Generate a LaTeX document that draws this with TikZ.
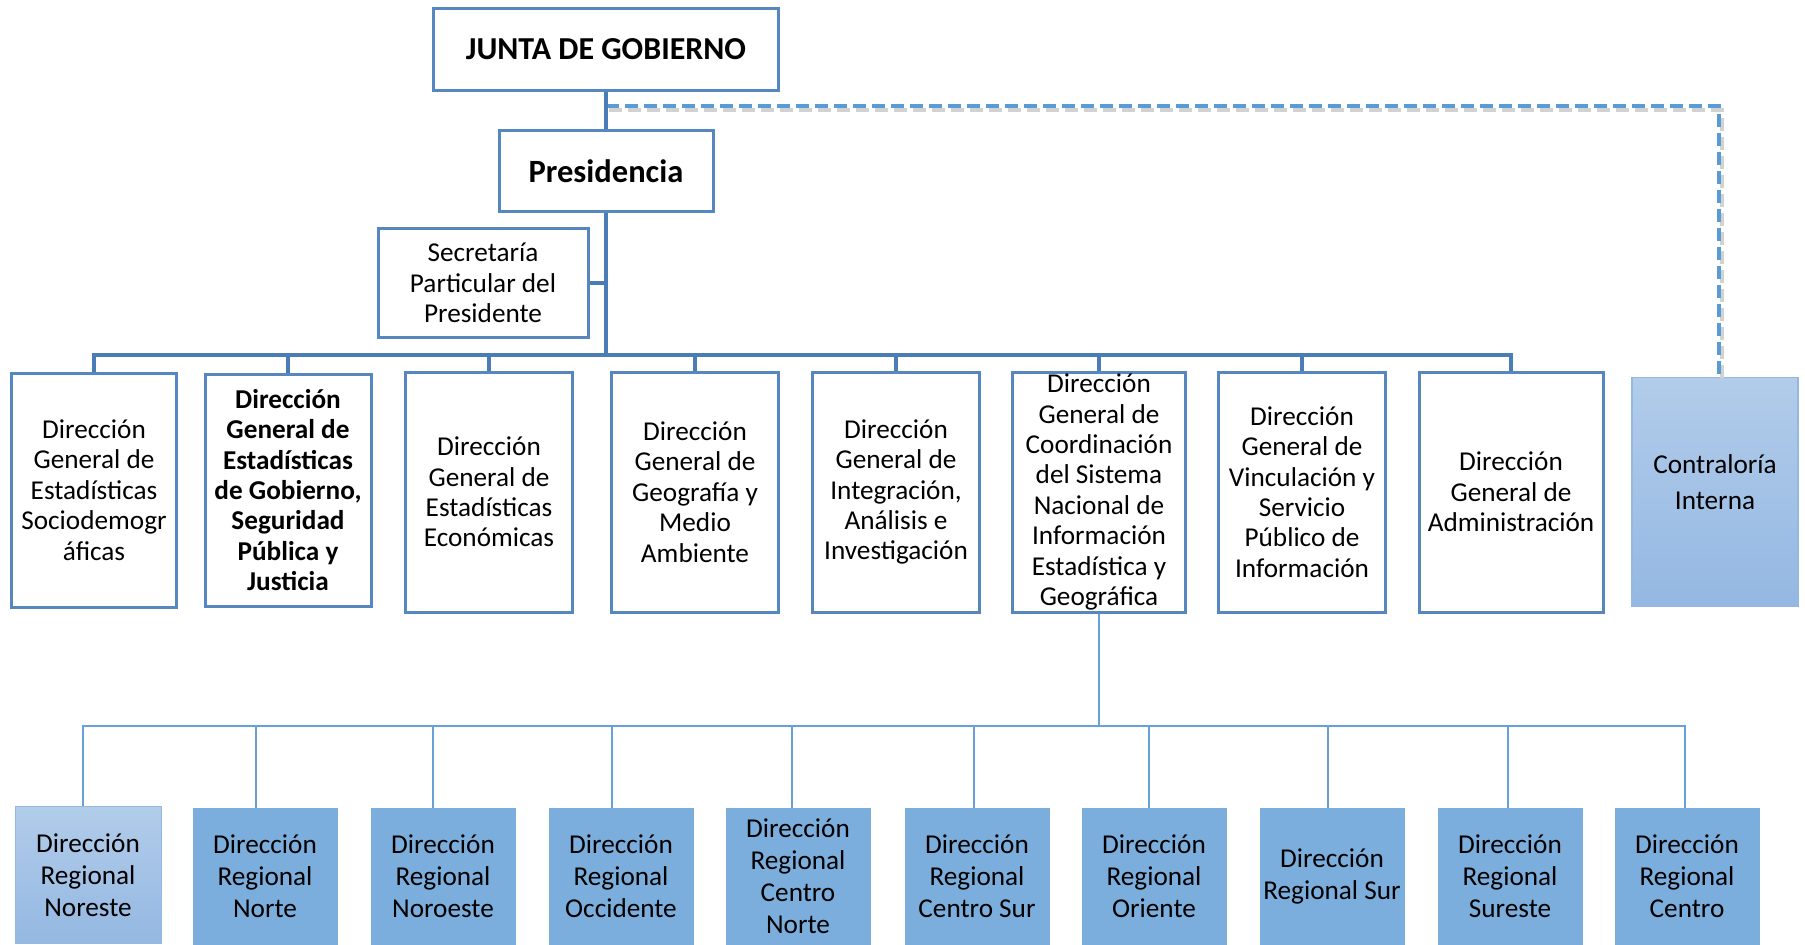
\documentclass[tikz,border=0pt]{standalone}
\usepackage{fontspec}
\setmainfont{Carlito}
\newlength\px
\setlength\px{0.02cm}
\definecolor{boxline}{RGB}{86,135,193}
\definecolor{topline}{RGB}{74,124,182}
\definecolor{lowline}{RGB}{104,160,216}
\definecolor{regfill}{RGB}{123,174,220}
\definecolor{lightA}{RGB}{178,204,234}
\definecolor{lightB}{RGB}{148,184,226}
\definecolor{dashblue}{RGB}{91,155,213}
\tikzset{
	unit/.style={draw=boxline,line width=3\px,fill=white,inner sep=0pt,align=center,font=\fontsize{15.5}{17.3}\selectfont},
	gen/.style={unit,minimum width=167\px,minimum height=240\px},
	reg/.style={draw=regfill,fill=regfill,line width=1\px,inner sep=0pt,align=center,minimum width=144\px,minimum height=136\px,font=\fontsize{15.5}{18.2}\selectfont},
	light/.style={top color=lightA,bottom color=lightB,draw=lightB},
	tree/.style={draw=topline,line width=3.5\px},
	branch/.style={draw=lowline,line width=2\px},
	dashline/.style={draw=dashblue,line width=4\px,dash pattern=on 0.26cm off 0.12cm}
}
\begin{document}
\begin{tikzpicture}[x=0.02cm,y=-0.02cm]
	\useasboundingbox (0,0) rectangle (1805,944);
	%top
	\node[unit,minimum width=345\px,minimum height=82\px,font=\fontsize{18.2}{21}\selectfont\bfseries] (junta) at (606,49) {JUNTA DE GOBIERNO};
	\node[unit,minimum width=214\px,minimum height=81\px,font=\fontsize{18.5}{22}\selectfont\bfseries] (pres) at (606,171) {Presidencia};
	\node[unit,minimum width=210\px,minimum height=109\px] (secr) at (483,283) {Secretaría\\Particular del\\Presidente};
	
	%direcciones generales
	\node[gen,minimum width=165\px,minimum height=234\px] (dgsd) at (94,490) {Dirección\\General de\\Estadísticas\\Sociodemogr\\áficas};
	\node[gen,minimum width=166\px,minimum height=232\px,font=\fontsize{15.5}{17.3}\selectfont\bfseries] (dggs) at (288,490) {Dirección\\General de\\Estadísticas\\de Gobierno,\\Seguridad\\Pública y\\Justicia};
	\node[gen] (dgee) at (489,492) {Dirección\\General de\\Estadísticas\\Económicas};
	\node[gen] (dggma) at (695,492) {Dirección\\General de\\Geografía y\\Medio\\Ambiente};
	\node[gen] (dgiai) at (896,492) {Dirección\\General de\\Integración,\\Análisis e\\Investigación};
	\node[gen,minimum width=173\px] (dgcsn) at (1099,492) {Dirección\\General de\\Coordinación\\del Sistema\\Nacional de\\Información\\Estadística y\\Geográfica};
	\node[gen] (dgvsp) at (1302,492) {Dirección\\General de\\Vinculación y\\Servicio\\Público de\\Información};
	\node[gen,minimum width=184\px] (dgad) at (1511,492) {Dirección\\General de\\Administración};
	\node[unit,light,line width=1.5\px,minimum width=166\px,minimum height=229\px] (cont) at (1715,492) {};
	\node[align=center,inner sep=0pt,font=\fontsize{15.5}{17.3}\selectfont] (conttxt) at (1715,482) {Contraloría\\[3pt]Interna};
	
	%regionales
	\node[reg,light,minimum width=146\px,minimum height=137\px] (rne) at (88,875) {Dirección\\Regional\\Noreste};
	\node[reg] (rn) at (265,876) {Dirección\\Regional\\Norte};
	\node[reg] (rno) at (443,876) {Dirección\\Regional\\Noroeste};
	\node[reg] (roc) at (621,876) {Dirección\\Regional\\Occidente};
	\node[reg] (rcn) at (798,876) {Dirección\\Regional\\Centro\\Norte};
	\node[reg] (rcs) at (977,876) {Dirección\\Regional\\Centro Sur};
	\node[reg] (ror) at (1154,876) {Dirección\\Regional\\Oriente};
	\node[reg] (rsu) at (1332,876) {Dirección\\Regional Sur};
	\node[reg] (rse) at (1510,876) {Dirección\\Regional\\Sureste};
	\node[reg] (rce) at (1687,876) {Dirección\\Regional\\Centro};
	
	%lines
	\coordinate (jp) at (606,106);
	\coordinate (bus) at (606,355);
	\coordinate (rbus) at (1099,726);
	\draw[gray!35,line width=4\px,dash pattern=on 0.26cm off 0.12cm] ([shift={(3,4)}]jp) -| ([shift={(7,4)}]cont.north);
	\draw[dashline] (jp) -| ([xshift=2.3pt]cont.north);
	\draw[tree] (junta.south) -- (pres.north);
	\draw[tree] (pres.south) -- (bus);
	\draw[tree] (secr.east) -- (secr.east -| bus);
	\draw[tree] (dgsd.north) -- (dgsd.north |- bus) -- (dgad.north |- bus) -- (dgad.north);
	\draw[tree] (dggs.north) -- (dggs.north |- bus);
	\draw[tree] (dgee.north) -- (dgee.north |- bus);
	\draw[tree] (dggma.north) -- (dggma.north |- bus);
	\draw[tree] (dgiai.north) -- (dgiai.north |- bus);
	\draw[tree] (dgcsn.north) -- (dgcsn.north |- bus);
	\draw[tree] (dgvsp.north) -- (dgvsp.north |- bus);
	
	%regional stems
	\draw[branch] (dgcsn.south) -- (rbus);
	\draw[branch] ([xshift=-2.8pt]rne.north) -- ([xshift=-2.8pt]rne.north |- rbus) -- ([xshift=-1.1pt]rce.north |- rbus) -- ([xshift=-1.1pt]rce.north);
	\draw[branch] ([xshift=-5.1pt]rn.north) -- ([xshift=-5.1pt]rn.north |- rbus);
	\draw[branch] ([xshift=-5.7pt]rno.north) -- ([xshift=-5.7pt]rno.north |- rbus);
	\draw[branch] ([xshift=-5.1pt]roc.north) -- ([xshift=-5.1pt]roc.north |- rbus);
	\draw[branch] ([xshift=-3.4pt]rcn.north) -- ([xshift=-3.4pt]rcn.north |- rbus);
	\draw[branch] ([xshift=-1.7pt]rcs.north) -- ([xshift=-1.7pt]rcs.north |- rbus);
	\draw[branch] ([xshift=-2.8pt]ror.north) -- ([xshift=-2.8pt]ror.north |- rbus);
	\draw[branch] ([xshift=-2.3pt]rsu.north) -- ([xshift=-2.3pt]rsu.north |- rbus);
	\draw[branch] ([xshift=-1.1pt]rse.north) -- ([xshift=-1.1pt]rse.north |- rbus);
\end{tikzpicture}
\end{document}
